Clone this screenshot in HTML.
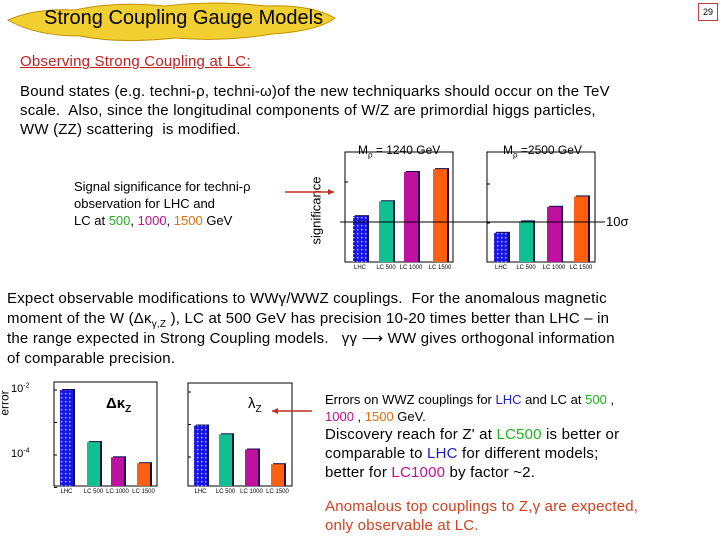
<!DOCTYPE html>
<html><head><meta charset="utf-8">
<style>
body{margin:0;width:720px;height:540px;background:#fff;position:relative;overflow:hidden;font-family:"Liberation Sans",sans-serif;color:#000}
.t{position:absolute;white-space:nowrap}
.b{font-size:15px;letter-spacing:0.2px}
.g{color:#20b020}.m{color:#c01090}.o{color:#e07010}.bl{color:#2020c0}
sub,sup{line-height:0}
</style></head><body>
<svg style="position:absolute;left:0;top:0" width="340" height="44">
<path d="M8,20 Q35,8 75,10 Q115,1 165,6 Q215,0 265,6 Q310,4 335,18 Q318,31 272,34 Q225,42 175,38 Q120,44 80,36 Q35,36 8,20Z" fill="#f2cf30" stroke="#c09000" stroke-width="1"/>
</svg>
<div class="t" style="left:44px;top:7px;font-size:20px">Strong Coupling Gauge Models</div>
<div class="t" style="left:698px;top:3px;width:18px;height:16px;border:1px solid #c04040;font-size:9px;text-align:center;line-height:16px">29</div>
<div class="t b" style="left:20px;top:53px;color:#c02020;text-decoration:underline">Observing Strong Coupling at LC:</div>
<div class="t b" style="left:20px;top:82px;line-height:19px">Bound states (e.g. techni-ρ, techni-ω)of the new techniquarks should occur on the TeV<br>scale.&nbsp; Also, since the longitudinal components of W/Z are primordial higgs particles,<br>WW (ZZ) scattering&nbsp; is modified.</div>
<div class="t" style="left:74px;top:178px;font-size:13px;line-height:17px">Signal significance for techni-ρ<br>observation for LHC and<br>LC at <span class="g">500</span>, <span class="m">1000</span>, <span class="o">1500</span> GeV</div>
<div class="t" style="left:358px;top:143px;font-size:12px">M<sub style="font-size:8px">ρ</sub> = 1240 GeV</div>
<div class="t" style="left:503px;top:143px;font-size:12px">M<sub style="font-size:8px">ρ</sub> =2500 GeV</div>
<div class="t" style="left:282px;top:203px;font-size:13px;transform:rotate(-90deg);transform-origin:center">significance</div>
<div class="t" style="left:606px;top:214px;font-size:13px">10σ</div>
<div class="t b" style="left:7px;top:289px;line-height:20px">Expect observable modifications to WWγ/WWZ couplings.&nbsp; For the anomalous magnetic<br>moment of the W (Δκ<sub style="font-size:10px">γ,Z</sub> ), LC at 500 GeV has precision 10-20 times better than LHC – in<br>the range expected in Strong Coupling models.&nbsp;&nbsp; γγ ⟶ WW gives orthogonal information<br>of comparable precision.</div>
<div class="t" style="left:-8px;top:396px;font-size:12px;transform:rotate(-90deg)">error</div>
<div class="t" style="left:11px;top:383px;font-size:11px">10<sup style="font-size:7px">-2</sup></div>
<div class="t" style="left:11px;top:448px;font-size:11px">10<sup style="font-size:7px">-4</sup></div>
<div class="t" style="left:106px;top:395px;font-size:15px;font-weight:bold">Δκ<sub style="font-size:10px">Z</sub></div>
<div class="t" style="left:248px;top:395px;font-size:15px">λ<sub style="font-size:10px">Z</sub></div>
<div class="t" style="left:325px;top:391px;font-size:13px;line-height:17px">Errors on WWZ couplings for <span class="bl">LHC</span> and LC at <span class="g">500</span> ,<br><span class="m">1000</span> , <span class="o">1500</span> GeV.</div>
<div class="t b" style="left:325px;top:425px;line-height:19px">Discovery reach for Z' at <span class="g">LC500</span> is better or<br>comparable to <span class="bl">LHC</span> for different models;<br>better for <span class="m">LC1000</span> by factor ~2.</div>
<div class="t b" style="left:325px;top:497px;line-height:19px;color:#d04020">Anomalous top couplings to Z,γ are expected,<br>only observable at LC.</div>
<svg id="charts" style="position:absolute;left:0;top:0" width="720" height="540">
<defs><pattern id="dots" width="4" height="4" patternUnits="userSpaceOnUse"><rect width="4" height="4" fill="#1818e0"/><rect x="1" y="1" width="1.3" height="1.3" fill="#ddf"/></pattern></defs>
</svg>
<script>
const categories=["LHC","LC 500","LC 1000","LC 1500"];
const sigM1240=[14,33,178,210];
const sigM2500=[5.6,11,26,48];
const errKappa=[0.01,2.5e-4,8.5e-5,5.6e-5];
const errLambda=[9.3e-4,5e-4,1.7e-4,6e-5];
const tenSigma=[10];
const colors=["url(#dots)","#10c090","#c010a0","#ff6010"];
const svg=document.getElementById('charts');
const NS="http://www.w3.org/2000/svg";
function mk(tag,attrs){const e=document.createElementNS(NS,tag);for(const k in attrs)e.setAttribute(k,attrs[k]);svg.appendChild(e);return e;}
function chart(name,vals,x0,x1,top,bottom,yAt,barX,bw,tickLogs){
  const fr=mk('path',{d:`M${x0},${top}H${x1}V${bottom}H${x0}Z`,fill:'none',stroke:'#000','stroke-width':1});
  
  
  tickLogs.forEach(l=>{const y=yAt(l);const t=mk('line',{x1:x0,x2:x0+3,y1:y,y2:y,stroke:'#000'});
    
    });
  vals.forEach((v,i)=>{const y=yAt(Math.log10(v));const x=barX[i];
    const s=mk('rect',{x:x+2,y:y-1,width:bw,height:bottom-y+1,fill:'#101050'});
    
    
    const r=mk('rect',{x:x,y:y,width:bw,height:bottom-y,fill:colors[i]});
    
    
    const lb=mk('text',{x:x+bw/2,y:bottom+7,'font-size':6,'text-anchor':'middle','font-family':'Liberation Sans'});
    lb.textContent=categories[i];
    
    });
}
const yTop=l=>262-l*40;
chart('sig-1240',sigM1240,345,453,152,262,yTop,[353,379,404,433],14,[0,1,2]);
chart('sig-2500',sigM2500,487,595,152,262,l=>262-l*39,[494,519,547,574],14,[0,1,2]);
const ln=mk('line',{x1:340,x2:605,y1:yTop(Math.log10(tenSigma[0])),y2:yTop(Math.log10(tenSigma[0])),stroke:'#000','stroke-width':1});


const yBot=l=>390-(l+2)*32.5;
chart('kappa',errKappa,54,157,382,486,yBot,[60,87,111,137],13,[-2,-3,-4,-5]);
chart('lambda',errLambda,188,292,383,486,l=>392-(l+2)*32.5,[194,219,245,271],13,[-2,-3,-4]);
function arrow(name,x1,y1,x2,y2){const l=mk('line',{x1,y1,x2,y2,stroke:'#c03020','stroke-width':1.5});
  
  const d=x2>x1?-1:1;const p=mk('path',{d:`M${x2},${y2}l${d*6},-3v6z`,fill:'#c03020'});
  }
arrow('significance-arrow',285,192,334,192);
arrow('lambda-arrow',312,411,272,411);
</script>
</body></html>
